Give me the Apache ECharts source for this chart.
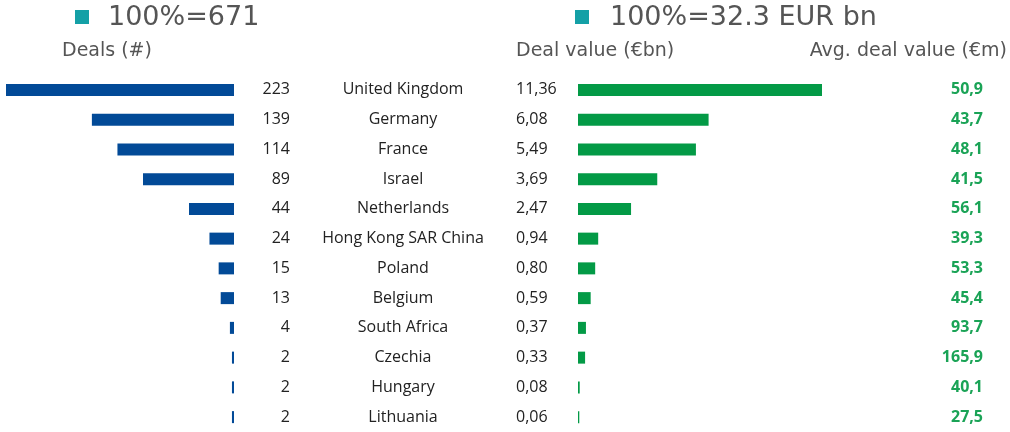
<!DOCTYPE html>
<html>
<head>
<meta charset="utf-8">
<script src="https://cdn.jsdelivr.net/npm/echarts@6/dist/echarts.min.js"></script>
<style>
  html, body { margin: 0; padding: 0; background: #fff; }
  #chart { width: 1010px; height: 432px; }
</style>
</head>
<body>
<div id="chart"></div>
<script>
// data
var countries = ['United Kingdom', 'Germany', 'France', 'Israel', 'Netherlands', 'Hong Kong SAR China',
  'Poland', 'Belgium', 'South Africa', 'Czechia', 'Hungary', 'Lithuania'];
var deals = [223, 139, 114, 89, 44, 24, 15, 13, 4, 2, 2, 2];
var dealValue = [11.36, 6.08, 5.49, 3.69, 2.47, 0.94, 0.80, 0.59, 0.37, 0.33, 0.08, 0.06];
var avgValue = ['50,9', '43,7', '48,1', '41,5', '56,1', '39,3', '53,3', '45,4', '93,7', '165,9', '40,1', '27,5'];

var chart = echarts.init(document.getElementById('chart'));

var gTop = 75, gHeight = 357;
var rowFont = 'Open Sans';

function fmtComma(v) {
  return v.toFixed(2).replace('.', ',');
}

var option = {
  animation: false,
  grid: [
    { left: 6, width: 228, top: gTop, height: gHeight },   // deals bars
    { left: 578, width: 244, top: gTop, height: gHeight }, // deal value bars
    { left: 403, width: 60, top: gTop, height: gHeight }   // country names
  ],
  xAxis: [
    { gridIndex: 0, type: 'value', inverse: true, min: 0, max: 223, show: false },
    { gridIndex: 1, type: 'value', min: 0, max: 11.36, show: false },
    { gridIndex: 2, type: 'value', show: false }
  ],
  yAxis: [
    {
      gridIndex: 0, type: 'category', inverse: true, position: 'right', data: countries,
      axisLine: { show: false }, axisTick: { show: false },
      axisLabel: {
        align: 'right', margin: 56, fontFamily: rowFont, fontSize: 16, color: '#222',
        formatter: function (v, i) { return deals[i]; }
      }
    },
    {
      gridIndex: 1, type: 'category', inverse: true, position: 'left', data: countries,
      axisLine: { show: false }, axisTick: { show: false },
      axisLabel: {
        align: 'left', margin: 62, fontFamily: rowFont, fontSize: 16, color: '#222',
        formatter: function (v, i) { return fmtComma(dealValue[i]); }
      }
    },
    {
      gridIndex: 1, type: 'category', inverse: true, position: 'right', data: countries,
      axisLine: { show: false }, axisTick: { show: false },
      axisLabel: {
        align: 'right', margin: 161, fontFamily: rowFont, fontSize: 16, fontWeight: 'bold', color: '#1aa356',
        formatter: function (v, i) { return avgValue[i]; }
      }
    },
    {
      gridIndex: 2, type: 'category', inverse: true, position: 'left', data: countries,
      axisLine: { show: false }, axisTick: { show: false },
      axisLabel: { align: 'center', margin: 0, fontFamily: rowFont, fontSize: 16, color: '#222' }
    }
  ],
  series: [
    {
      type: 'bar', xAxisIndex: 0, yAxisIndex: 0, data: deals, barWidth: 12,
      itemStyle: { color: '#024a97' }
    },
    {
      type: 'bar', xAxisIndex: 1, yAxisIndex: 1, data: dealValue, barWidth: 12,
      itemStyle: { color: '#039a46' }
    }
  ],
  graphic: [
    { type: 'rect', left: 75, top: 10, shape: { width: 14, height: 14 }, style: { fill: '#14a0a6' } },
    { type: 'text', left: 108, top: 4, style: { text: '100%=671', font: '27px "DejaVu Sans"', fill: '#555' } },
    { type: 'rect', left: 575, top: 10, shape: { width: 14, height: 14 }, style: { fill: '#14a0a6' } },
    { type: 'text', left: 610, top: 4, style: { text: '100%=32.3 EUR bn', font: '27px "DejaVu Sans"', fill: '#555' } },
    { type: 'text', left: 62, top: 42, style: { text: 'Deals (#)', font: '19px "DejaVu Sans"', fill: '#555' } },
    { type: 'text', left: 516, top: 42, style: { text: 'Deal value (€bn)', font: '19px "DejaVu Sans"', fill: '#555' } },
    { type: 'text', right: 3, top: 42, style: { text: 'Avg. deal value (€m)', font: '19px "DejaVu Sans"', fill: '#555' } }
  ]
};

chart.setOption(option);
</script>
</body>
</html>
